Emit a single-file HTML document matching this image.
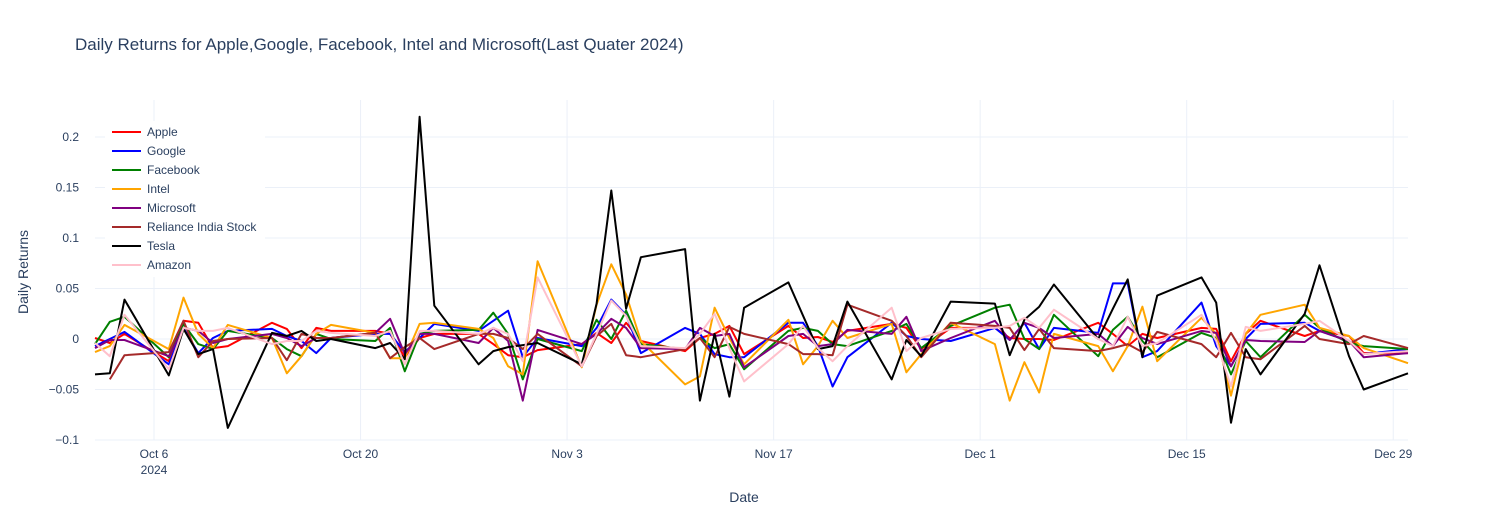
<!DOCTYPE html>
<html><head><meta charset="utf-8">
<style>
body{margin:0;background:#fff;}
svg{display:block;font-family:"Liberation Sans",Arial,sans-serif;}
</style></head>
<body>
<svg id="chart" width="1488" height="525" xmlns="http://www.w3.org/2000/svg">
<rect width="1488" height="525" fill="#fff"/>
<text x="75" y="50" font-size="17" fill="#2a3f5f">Daily Returns for Apple,Google, Facebook, Intel and Microsoft(Last Quater 2024)</text>
<g id="grid"></g><g id="series"></g><g id="axes"></g><g id="legend"></g>
<text x="744" y="502" font-size="14" fill="#2a3f5f" text-anchor="middle">Date</text>
<text transform="translate(28,272) rotate(-90)" font-size="14" fill="#2a3f5f" text-anchor="middle">Daily Returns</text>
</svg>
<script>
const dates=["2024-10-02","2024-10-03","2024-10-04","2024-10-07","2024-10-08","2024-10-09","2024-10-10","2024-10-11","2024-10-14","2024-10-15","2024-10-16","2024-10-17","2024-10-18","2024-10-21","2024-10-22","2024-10-23","2024-10-24","2024-10-25","2024-10-28","2024-10-29","2024-10-30","2024-10-31","2024-11-01","2024-11-04","2024-11-05","2024-11-06","2024-11-07","2024-11-08","2024-11-11","2024-11-12","2024-11-13","2024-11-14","2024-11-15","2024-11-18","2024-11-19","2024-11-20","2024-11-21","2024-11-22","2024-11-25","2024-11-26","2024-11-27","2024-11-29","2024-12-02","2024-12-03","2024-12-04","2024-12-05","2024-12-06","2024-12-09","2024-12-10","2024-12-11","2024-12-12","2024-12-13","2024-12-16","2024-12-17","2024-12-18","2024-12-19","2024-12-20","2024-12-23","2024-12-24","2024-12-26","2024-12-27","2024-12-30"];
const apple=[0.001,-0.004,0.005,-0.022,0.018,0.016,-0.009,-0.007,0.016,0.010,-0.009,0.011,0.008,0.008,0.005,-0.018,0.001,0.005,0.005,-0.005,-0.016,-0.018,-0.011,-0.005,0.006,-0.004,0.016,-0.002,-0.012,0.001,0.005,0.013,-0.015,0.013,0.001,0.002,-0.003,0.008,0.015,0.011,-0.010,0.011,0.011,0.001,0,0,-0.001,0.016,0.005,-0.007,0.005,0.001,0.011,0.010,-0.022,0.005,0.018,0.003,0.008,0.003,-0.014,-0.014];
const google=[-0.007,0,0.007,-0.025,0.011,-0.014,0.001,0.008,0.010,0.003,-0.002,-0.014,0.001,0.005,0.005,-0.013,0.001,0.015,0.008,0.018,0.028,-0.018,0.001,-0.007,0.011,0.039,0.024,-0.014,0.011,0.005,-0.015,-0.018,-0.018,0.016,0.016,-0.007,-0.047,-0.018,0.016,0.003,0,-0.002,0.011,-0.001,0.016,-0.010,0.011,0.006,0.055,0.055,-0.018,-0.012,0.036,-0.007,-0.027,0,0.015,0.016,0.008,-0.002,-0.015,-0.010];
const facebook=[-0.005,0.017,0.022,-0.018,0.015,-0.005,-0.010,0.008,0.001,-0.010,-0.017,0.005,0,-0.002,0.011,-0.032,0.005,0.008,0.009,0.026,0.005,-0.040,0,-0.012,0.019,0,0.028,-0.005,-0.010,0.001,-0.009,-0.005,-0.030,0.008,0.011,0.008,-0.005,-0.007,0.008,0.015,-0.009,0.013,0.031,0.034,0,-0.010,0.024,-0.017,0.009,0.022,-0.002,-0.018,0.006,0.001,-0.035,-0.002,-0.018,0.024,0.011,-0.004,-0.007,-0.010];
const intel=[-0.013,-0.007,0.014,-0.010,0.041,0.005,-0.009,0.014,0.001,-0.034,-0.017,0.005,0.014,0.006,-0.019,-0.019,0.015,0.016,0.010,0.001,-0.027,-0.035,0.077,-0.028,0.034,0.074,0.044,-0.002,-0.045,-0.037,0.031,0.001,-0.025,0.019,-0.025,-0.007,0.018,0.001,0.015,-0.033,-0.015,0.016,-0.005,-0.061,-0.023,-0.053,0.005,-0.007,-0.032,-0.007,0.032,-0.022,0.021,0.005,-0.056,0.005,0.024,0.034,0.011,0.003,-0.009,-0.024];
const microsoft=[-0.009,-0.001,-0.001,-0.017,0.011,0.008,-0.004,0,0.005,0.001,-0.007,0.001,0.001,0.006,0.020,-0.015,0.005,0.005,-0.004,0.011,-0.002,-0.061,0.009,-0.005,0.005,0.020,0.011,-0.009,-0.010,0.011,0.003,0.005,-0.028,0.003,0.005,-0.007,-0.005,0.009,0.005,0.022,-0.012,0.001,0.018,-0.001,0.016,0.011,0.001,0.005,-0.007,0.012,0.001,-0.005,0.008,0.006,-0.027,-0.001,-0.002,-0.003,0.008,-0.002,-0.018,-0.014];
const reliance=[null,-0.040,-0.016,-0.013,0.018,-0.018,-0.002,0,0.001,-0.021,0.005,0.001,0.001,0.006,-0.019,-0.008,0.001,-0.010,0.005,0.005,0.001,-0.010,0.005,-0.027,0.003,0.015,-0.016,-0.018,-0.010,0.001,-0.018,0.012,0.005,-0.005,-0.015,-0.015,-0.016,0.034,0.018,0.003,-0.018,0.016,0.013,0.011,-0.011,0.010,-0.009,-0.012,-0.009,-0.005,-0.013,0.007,-0.005,-0.018,0.006,-0.018,-0.020,0.013,0,-0.005,0.003,-0.009];
const tesla=[-0.035,-0.034,0.039,-0.036,0.010,-0.015,-0.010,-0.088,0.006,0.003,0.008,-0.002,0.000,-0.009,-0.004,-0.020,0.22,0.033,-0.025,-0.012,-0.008,-0.006,-0.004,-0.025,0.035,0.147,0.030,0.081,0.089,-0.061,0.005,-0.057,0.031,0.056,0.023,-0.010,-0.007,0.037,-0.040,-0.001,-0.017,0.037,0.035,-0.016,0.019,0.032,0.054,0.000,0.030,0.059,-0.018,0.043,0.061,0.036,-0.083,-0.010,-0.035,0.025,0.073,-0.017,-0.050,-0.034];
const amazon=[-0.004,-0.017,0.024,-0.030,0.011,0.008,0.008,0.011,-0.005,-0.002,-0.002,0.008,0.006,0.003,0.008,-0.025,0.008,0.008,0.005,0.011,0.005,-0.022,0.061,-0.027,0.005,0.038,0.023,-0.007,-0.009,0.005,0.025,-0.009,-0.042,-0.005,0.013,-0.009,-0.022,-0.007,0.031,-0.012,0.001,0.010,0.011,0.013,0.021,0.011,0.029,0,-0.007,0.022,-0.007,-0.004,0.024,-0.002,-0.047,0.012,0.008,0.015,0.018,-0.002,-0.015,-0.012];
const seriesNames=["Apple","Google","Facebook","Intel","Microsoft","Reliance India Stock","Tesla","Amazon"];
const seriesColors=["red","blue","green","orange","purple","brown","black","pink"];
const seriesData=[apple,google,facebook,intel,microsoft,reliance,tesla,amazon];
const yTicks=[-0.1,-0.05,0,0.05,0.1,0.15,0.2];
const yTickLabels=["−0.1","−0.05","0","0.05","0.1","0.15","0.2"];
const xTicks=["2024-10-06","2024-10-20","2024-11-03","2024-11-17","2024-12-01","2024-12-15","2024-12-29"];
const xTickLabels=["Oct 6","Oct 20","Nov 3","Nov 17","Dec 1","Dec 15","Dec 29"];

const NS="http://www.w3.org/2000/svg";
const L=95,R=1408,T=100,B=440;
const t0=Date.parse("2024-10-02"),t1=Date.parse("2024-12-30");
const Y0=339,YK=1010;
function xs(d){return L+(Date.parse(d)-t0)/(t1-t0)*(R-L);}
function ys(v){return Y0-v*YK;}
function mk(tag,attrs,parent){const e=document.createElementNS(NS,tag);for(const k in attrs)e.setAttribute(k,attrs[k]);parent.appendChild(e);return e;}
const grid=document.getElementById('grid'),axes=document.getElementById('axes'),ser=document.getElementById('series'),leg=document.getElementById('legend');
yTicks.forEach((v,i)=>{
  const ln=mk('line',{x1:L,x2:R,y1:ys(v),y2:ys(v),stroke:'#ebf0f8','stroke-width':1},grid);
  
  
  const t=mk('text',{x:79,y:ys(v)+4,'font-size':12,fill:'#2a3f5f','text-anchor':'end'},axes);
  t.textContent=yTickLabels[i];
  
  
});
xTicks.forEach((d,i)=>{
  const ln=mk('line',{x1:xs(d),x2:xs(d),y1:T,y2:B,stroke:'#ebf0f8','stroke-width':1},grid);
  
  
  const t=mk('text',{x:xs(d),y:458,'font-size':12,fill:'#2a3f5f','text-anchor':'middle'},axes);
  t.textContent=xTickLabels[i];
  
  
});
const yr=mk('text',{x:xs(xTicks[0]),y:474,'font-size':12,fill:'#2a3f5f','text-anchor':'middle'},axes);
yr.textContent="2024";


seriesData.forEach((arr,si)=>{
  let d="",pen=false;
  arr.forEach((v,i)=>{if(v===null){pen=false;return;}d+=(pen?"L":"M")+xs(dates[i]).toFixed(1)+","+ys(v).toFixed(1);pen=true;});
  const p=mk('path',{d:d,fill:'none',stroke:seriesColors[si],'stroke-width':2,'stroke-linejoin':'round'},ser);
  
  
});
const lb=mk('rect',{x:105,y:121,width:160,height:156,fill:'#fff'},leg);


seriesNames.forEach((n,i)=>{
  const g=mk('g',{},leg);
  
  
  const y=132+i*19;
  mk('line',{x1:112,x2:141,y1:y,y2:y,stroke:seriesColors[i],'stroke-width':2},g);
  const t=mk('text',{x:147,y:y+4,'font-size':12,fill:'#2a3f5f'},g);
  t.textContent=n;
});
</script>
</body></html>
